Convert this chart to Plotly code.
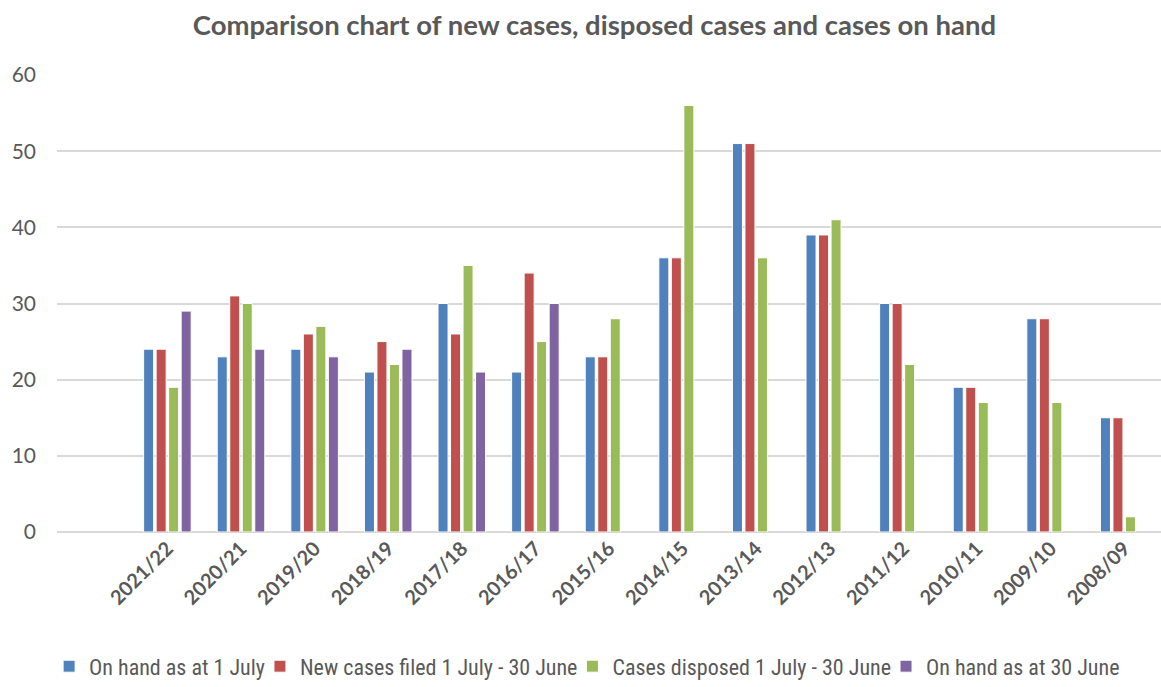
import plotly.graph_objects as go

years = ["2021/22", "2020/21", "2019/20", "2018/19", "2017/18", "2016/17", "2015/16",
         "2014/15", "2013/14", "2012/13", "2011/12", "2010/11", "2009/10", "2008/09"]
on_hand_1_july = [24, 23, 24, 21, 30, 21, 23, 36, 51, 39, 30, 19, 28, 15]
new_cases = [24, 31, 26, 25, 26, 34, 23, 36, 51, 39, 30, 19, 28, 15]
disposed = [19, 30, 27, 22, 35, 25, 28, 56, 36, 41, 22, 17, 17, 2]
on_hand_30_june = [29, 24, 23, 24, 21, 30, None, None, None, None, None, None, None, None]

series = [
    ("On hand as at 1 July", on_hand_1_july, "#4F81BD"),
    ("New cases filed 1 July - 30 June", new_cases, "#C0504D"),
    ("Cases disposed 1 July - 30 June", disposed, "#9BBB59"),
    ("On hand as at 30 June", on_hand_30_june, "#8064A2"),
]

fig = go.Figure()
for name, vals, color in series:
    fig.add_trace(go.Bar(x=years, y=vals, name=name,
                         marker=dict(color=color, line=dict(color="white", width=1))))

grey = "#595959"
fig.update_layout(
    width=1161, height=687,
    paper_bgcolor="white", plot_bgcolor="white",
    barmode="group", bargap=0.32, bargroupgap=0.2,
    margin=dict(l=57, r=0, t=75, b=155),
    title=dict(text="<b>Comparison chart of new cases, disposed cases and cases on hand</b>",
               x=0.512, xanchor="center", y=0.963, yanchor="middle",
               font=dict(family="Lato, Open Sans, sans-serif", size=27.5, color=grey)),
    font=dict(family="Lato, Open Sans, sans-serif", color=grey),
    xaxis=dict(type="category", range=[-1.5, 13.5], tickangle=-45,
               tickfont=dict(size=20, color=grey, family="Lato, Open Sans, sans-serif", weight="bold"),
               showgrid=False, showline=False, ticks=""),
    yaxis=dict(range=[0, 60], dtick=10, showgrid=True, gridcolor="#D9D9D9", gridwidth=1.5,
               zeroline=True, zerolinecolor="#D9D9D9", zerolinewidth=1.5,
               tickfont=dict(size=21, color=grey), ticklabelstandoff=20, showline=False),
    legend=dict(orientation="h", xref="container", x=0.51, xanchor="center",
                yref="container", y=0.03, yanchor="middle",
                font=dict(family="Liberation Sans Narrow, Roboto Condensed, Arial Narrow, sans-serif",
                          size=22, color=grey),
                itemwidth=30, indentation=-10, traceorder="normal"),
)

fig.write_html("out.html", post_script="document.body.style.margin='0';",
               config={"displayModeBar": False})
